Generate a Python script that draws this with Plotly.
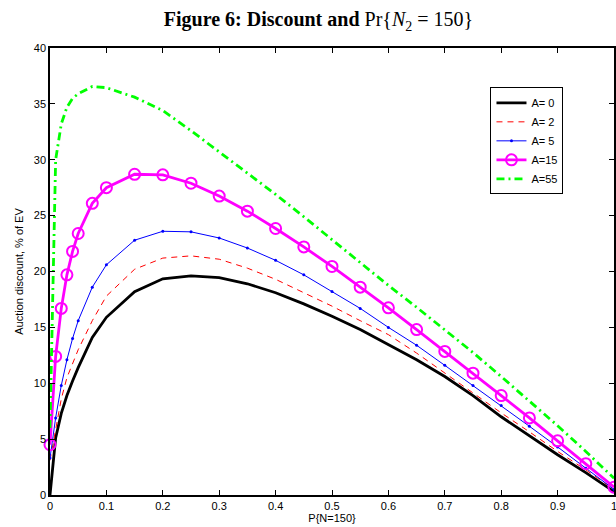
import plotly.graph_objects as go

x_vals = [0, 0.01, 0.02, 0.03, 0.04, 0.05, 0.075, 0.1, 0.15, 0.2, 0.25, 0.3, 0.35,
          0.4, 0.45, 0.5, 0.55, 0.6, 0.65, 0.7, 0.75, 0.8, 0.85, 0.9, 0.95, 1.0]

a0 = [0, 5.1, 7.3, 8.9, 10.2, 11.4, 14.1, 15.9, 18.2, 19.35, 19.6, 19.45, 18.9,
      18.1, 17.1, 16.0, 14.8, 13.45, 12.1, 10.6, 8.9, 7.0, 5.3, 3.6, 2.0, 0.3]
a2 = [3.1, 6.0, 8.6, 10.5, 11.8, 13.0, 15.6, 17.8, 20.2, 21.2, 21.4, 21.1, 20.3,
      19.3, 18.1, 16.9, 15.6, 14.35, 12.7, 10.9, 9.1, 7.35, 5.65, 3.9, 2.25, 0.5]
a5 = [3.3, 6.9, 9.8, 12.1, 14.0, 15.6, 18.6, 20.6, 22.8, 23.6, 23.55, 23.0, 22.1,
      21.0, 19.7, 18.2, 16.7, 15.0, 13.4, 11.6, 9.8, 8.0, 6.15, 4.3, 2.4, 0.5]
a15 = [4.5, 12.4, 16.7, 19.7, 21.8, 23.4, 26.1, 27.5, 28.7, 28.65, 27.9, 26.75, 25.4,
       23.85, 22.2, 20.45, 18.6, 16.75, 14.8, 12.85, 10.9, 8.9, 6.9, 4.85, 2.8, 0.7]
a55 = [6.0, 30.0, 33.2, 34.7, 35.5, 35.9, 36.55, 36.45, 35.6, 34.4, 32.6, 30.7, 28.75,
       26.9, 24.9, 22.85, 20.8, 18.75, 16.8, 14.8, 12.75, 10.6, 8.4, 6.2, 3.9, 1.5]

series_names = ["A= 0", "A= 2", "A= 5", "A=15", "A=55"]
x_ticks = [0, 0.1, 0.2, 0.3, 0.4, 0.5, 0.6, 0.7, 0.8, 0.9, 1]
x_tick_labels = ["0", "0.1", "0.2", "0.3", "0.4", "0.5", "0.6", "0.7", "0.8", "0.9", "1"]
y_ticks = [0, 5, 10, 15, 20, 25, 30, 35, 40]

fig = go.Figure()
fig.add_trace(go.Scatter(x=x_vals, y=a0, name=series_names[0], mode="lines",
                         line=dict(color="black", width=2.8)))
fig.add_trace(go.Scatter(x=x_vals, y=a2, name=series_names[1], mode="lines",
                         line=dict(color="red", width=1, dash="6px,5px")))
fig.add_trace(go.Scatter(x=x_vals, y=a5, name=series_names[2], mode="lines+markers",
                         line=dict(color="blue", width=1),
                         marker=dict(color="blue", size=3, symbol="circle")))
fig.add_trace(go.Scatter(x=x_vals, y=a15, name=series_names[3], mode="lines+markers",
                         line=dict(color="#ff00ff", width=2.8), cliponaxis=False,
                         marker=dict(color="#ff00ff", size=11, symbol="circle-open",
                                     line=dict(color="#ff00ff", width=2))))
fig.add_trace(go.Scatter(x=x_vals, y=a55, name=series_names[4], mode="lines",
                         line=dict(color="#00ff00", width=2.8, dash="8px,4px,2px,4px")))

axis_common = dict(showgrid=False, zeroline=False, showline=True, linecolor="black",
                   linewidth=1.5, ticks="inside", ticklen=5, tickcolor="black",
                   tickwidth=1, mirror="ticks", ticklabeloverflow="allow",
                   tickfont=dict(family="Liberation Sans, Arial", size=11, color="black"))

fig.update_layout(
    width=616, height=527,
    paper_bgcolor="white", plot_bgcolor="white",
    margin=dict(l=50, r=0, t=48, b=32),
    title=dict(text="<b>Figure 6: Discount and</b> Pr{<i>N</i><sub>2</sub> = 150}",
               x=0.517, xref="container", xanchor="center", y=0.963, yanchor="middle",
               font=dict(family="Liberation Serif, Times New Roman", size=20, color="black")),
    xaxis=dict(range=[0, 1], tickvals=x_ticks, ticktext=x_tick_labels, automargin=False,
               title=dict(text="P{N=150}", standoff=2,
                          font=dict(family="Liberation Sans, Arial", size=11, color="black")),
               **axis_common),
    yaxis=dict(range=[0, 40], tickvals=y_ticks,
               title=dict(text="Auction discount, % of EV", standoff=8,
                          font=dict(family="Liberation Sans, Arial", size=11, color="black")),
               **axis_common),
    legend=dict(x=0.781, y=0.912, xanchor="left", yanchor="top",
                bgcolor="white", bordercolor="black", borderwidth=1,
                font=dict(family="Liberation Sans, Arial", size=11, color="black"),
                tracegroupgap=0, itemwidth=30),
    showlegend=True,
)

fig.write_html("out.html")
